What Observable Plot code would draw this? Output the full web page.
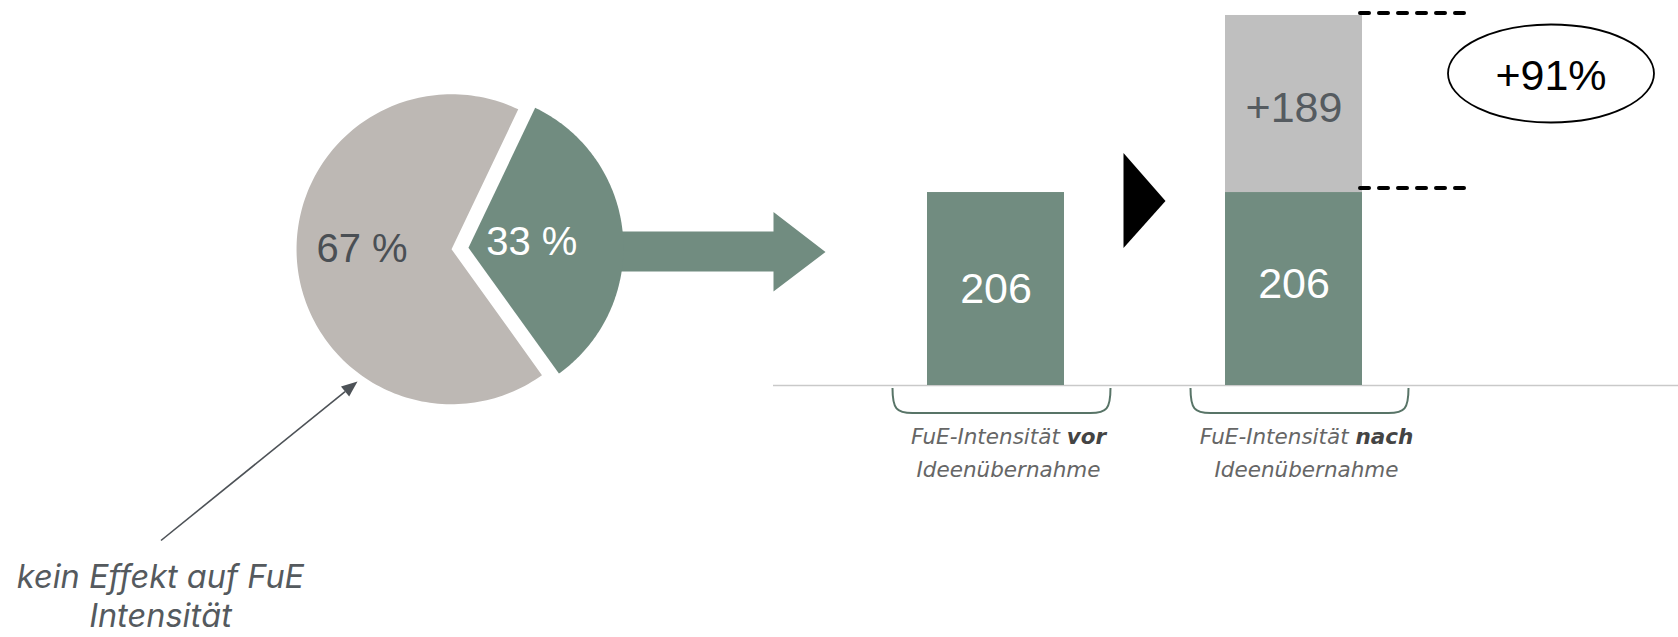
<!DOCTYPE html>
<html><head><meta charset="utf-8">
<script src="https://cdn.jsdelivr.net/npm/d3@7"></script>
<script src="https://cdn.jsdelivr.net/npm/@observablehq/plot@0.6"></script>
<style>
html,body{margin:0;padding:0;background:#fff;}
#chart{position:relative;width:1678px;height:637px;overflow:hidden;background:#fff;}
#chart svg{position:absolute;top:0;max-width:none;}
</style></head><body><div id="chart"></div>
<script>
// ---------- data ----------
const pieLabels = ["Effekt auf FuE", "kein Effekt auf FuE"];
const pieValues = [33, 67];
const pieTexts = ["33 %", "67 %"];
const barCategories = ["vor", "nach"];
const barSeries = ["Basis", "Zuwachs"];
const basisValues = [206, 206];
const increaseValues = [0, 189];
const categoryPrefix = "FuE-Intensität ";
const categorySecondLine = "Ideenübernahme";
const changeText = "+91%";
const annotationText = "kein Effekt auf FuE\nIntensität";

// ---------- styles / layout ----------
const GREEN = "#718c80", PIEGRAY = "#bdb8b4", BARGRAY = "#bfbfbf";
const NUMFONT = "'Liberation Sans', Arial, sans-serif";
const LABELFONT = "'DejaVu Sans', Verdana, sans-serif";
const P = {cx: 459.5, cy: 248, R: 155, explode: 8.5, start: 25.5, width: 840, height: 637};
const ux = px => (px - P.cx) / P.R, uy = py => (P.cy - py) / P.R;

// ---------- pie geometry from data ----------
const arcs = d3.pie().sort(null)
  .startAngle(P.start * Math.PI / 180)
  .endAngle(P.start * Math.PI / 180 + 2 * Math.PI)(pieValues);
const slicePts = [];
const sliceLabels = [];
const labelR = [0.41, 0.58], labelDy = [0, -8];
arcs.forEach((a, i) => {
  const mid = (a.startAngle + a.endAngle) / 2;
  const ox = Math.sin(mid) * P.explode / P.R, oy = Math.cos(mid) * P.explode / P.R;
  slicePts.push({slice: pieLabels[i], x: ox, y: oy});
  const n = 160;
  for (let k = 0; k <= n; k++) {
    const t = a.startAngle + (a.endAngle - a.startAngle) * k / n;
    slicePts.push({slice: pieLabels[i], x: ox + Math.sin(t), y: oy + Math.cos(t)});
  }
  sliceLabels.push({slice: pieLabels[i], text: pieTexts[i],
    x: ox + labelR[i] * Math.sin(mid), y: oy + labelR[i] * Math.cos(mid)});
});

// big arrow (px layout) -> units
const bigArrow = [[600,231],[773,231],[773,211.5],[825,251.5],[773,291],[773,271],[600,271]]
  .map(([x, y]) => ({x: ux(x), y: uy(y)}));
// annotation arrow
const annTail = [160.5, 540], annTip = [357, 381];
const dxA = annTip[0] - annTail[0], dyA = annTip[1] - annTail[1], lenA = Math.hypot(dxA, dyA);
const dA = [dxA / lenA, dyA / lenA], pA = [-dA[1], dA[0]];
const headL = 16, headW = 6.5;
const headBase = [annTip[0] - headL * dA[0], annTip[1] - headL * dA[1]];
const headPts = [annTip, [headBase[0] + headW * pA[0], headBase[1] + headW * pA[1]], [headBase[0] - headW * pA[0], headBase[1] - headW * pA[1]]]
  .map(([x, y]) => ({x: ux(x), y: uy(y)}));

const pie = Plot.plot({
  width: P.width, height: P.height, margin: 0,
  x: {domain: [-1, 1], range: [P.cx - P.R, P.cx + P.R], axis: null},
  y: {domain: [-1, 1], range: [P.cy + P.R, P.cy - P.R], axis: null},
  style: {background: "transparent", overflow: "visible", maxWidth: "none"},
  marks: [
    Plot.line(bigArrow, {x: "x", y: "y", fill: GREEN, stroke: "none", curve: "linear-closed"}),
    Plot.line(slicePts.filter(d => d.slice === pieLabels[1]), {x: "x", y: "y", fill: PIEGRAY, stroke: "none", curve: "linear-closed"}),
    Plot.line(slicePts.filter(d => d.slice === pieLabels[0]), {x: "x", y: "y", fill: GREEN, stroke: "none", curve: "linear-closed"}),
    Plot.text(sliceLabels.filter(d => d.slice === pieLabels[0]), {x: "x", y: "y", text: "text", fill: "white", fontSize: 40, fontFamily: NUMFONT}),
    Plot.text(sliceLabels.filter(d => d.slice === pieLabels[1]), {x: "x", y: "y", text: "text", dy: labelDy[1], fill: "#4a4f54", fontSize: 40, fontFamily: NUMFONT}),
    Plot.link([{x1: ux(annTail[0]), y1: uy(annTail[1]), x2: ux(headBase[0]), y2: uy(headBase[1])}],
      {x1: "x1", y1: "y1", x2: "x2", y2: "y2", stroke: "#4d5257", strokeWidth: 1.6}),
    Plot.line(headPts, {x: "x", y: "y", fill: "#4d5257", stroke: "none", curve: "linear-closed"}),
    Plot.text([annotationText], {x: ux(160), y: uy(559), text: d => d, lineAnchor: "top", lineHeight: 1.22,
      fontSize: 32.5, fontStyle: "italic", fontFamily: "Inter, 'Open Sans', sans-serif", fill: "#555a5e"})
  ]
});
pie.style.left = "0px";
document.getElementById("chart").appendChild(pie);

// ---------- bars ----------
const B = {left: 773, width: 905, height: 637, baseY: 385, yMax: 411, xRange: [0, 743.6], padIn: 0.541, padOut: 0.516};
const basisLabelDy = [0, -5];
const barData = [];
barCategories.forEach((c, i) => {
  const vals = [basisValues[i], increaseValues[i]];
  let acc = 0;
  vals.forEach((v, j) => {
    if (v > 0) { barData.push({cat: c, part: barSeries[j], value: v, y1: acc, y2: acc + v, idx: i}); acc += v; }
  });
});

const bars = Plot.plot({
  width: B.width, height: B.height, margin: 0,
  x: {domain: barCategories, range: B.xRange, paddingInner: B.padIn, paddingOuter: B.padOut, axis: null},
  y: {domain: [0, B.yMax], range: [B.baseY, 0], axis: null},
  color: {domain: barSeries, range: [GREEN, BARGRAY]},
  style: {background: "transparent", overflow: "visible", maxWidth: "none"},
  marks: [
    Plot.ruleY([0], {stroke: "#c9c9c9", strokeWidth: 1.5}),
    Plot.barY(barData, {x: "cat", y1: "y1", y2: "y2", fill: "part", inset: 0}),
    ...barData.filter(d => d.part === "Basis").map(d =>
      Plot.text([d], {x: "cat", y: r => (r.y1 + r.y2) / 2, text: r => String(r.value), dy: basisLabelDy[d.idx],
        fill: "white", fontSize: 43, fontFamily: NUMFONT})),
    Plot.text(barData.filter(d => d.part === "Zuwachs"), {x: "cat", y: d => (d.y1 + d.y2) / 2, text: d => "+" + d.value,
      dy: 4, fill: "#555b60", fontSize: 43, fontFamily: NUMFONT})
  ]
});
bars.style.left = B.left + "px";
document.getElementById("chart").appendChild(bars);

// decorations positioned with the plot's own scales
const xs = bars.scale("x"), ys = bars.scale("y");
const bw = xs.bandwidth;
const bandL = c => xs.apply(c), bandC = c => xs.apply(c) + bw / 2, bandR = c => xs.apply(c) + bw;
const svg = d3.select(bars);
const g = svg.append("g");

barCategories.forEach(c => {
  const cx = bandC(c), x0 = cx - 103, x1 = cx + 115, yT = 388, yB = 413, r = 20;
  g.append("path")
    .attr("d", `M${x0},${yT} C${x0},${yB - 4} ${x0 + 4},${yB} ${x0 + r},${yB} H${x1 - r} C${x1 - 4},${yB} ${x1},${yB - 4} ${x1},${yT}`)
    .attr("fill", "none").attr("stroke", "#587467").attr("stroke-width", 2);
  const t = g.append("text").attr("x", cx + 13).attr("y", 444).attr("text-anchor", "middle")
    .attr("font-family", LABELFONT).attr("font-size", 21.5).attr("font-style", "italic").attr("fill", "#666");
  t.append("tspan").text(categoryPrefix);
  t.append("tspan").attr("font-weight", "bold").attr("fill", "#444").text(c);
  g.append("text").attr("x", cx + 13).attr("y", 477).attr("text-anchor", "middle")
    .attr("font-family", LABELFONT).attr("font-size", 21.5).attr("font-style", "italic").attr("fill", "#666")
    .text(categorySecondLine);
});

// black triangle between the bars
const gapC = (bandR(barCategories[0]) + bandL(barCategories[1])) / 2;
g.append("path").attr("d", `M${gapC - 21},153 L${gapC + 21},201 L${gapC - 21},248 Z`).attr("fill", "#000");

// dashed guide lines at the two levels
const last = barCategories[1];
const total = basisValues[1] + increaseValues[1];
[[total, -2], [basisValues[1], -4]].forEach(([v, off]) => {
  g.append("line").attr("x1", bandR(last) - 2).attr("x2", bandR(last) + 104)
    .attr("y1", ys.apply(v) + off).attr("y2", ys.apply(v) + off)
    .attr("stroke", "#000").attr("stroke-width", 4).attr("stroke-dasharray", "9 10").attr("stroke-linecap", "round");
});

// ellipse with percentage change
const eCx = bandR(last) + 189;
g.append("ellipse").attr("cx", eCx).attr("cy", 73.5).attr("rx", 103).attr("ry", 49)
  .attr("fill", "none").attr("stroke", "#000").attr("stroke-width", 1.8);
g.append("text").attr("x", eCx).attr("y", 90).attr("text-anchor", "middle")
  .attr("font-family", NUMFONT).attr("font-size", 43).attr("fill", "#000").text(changeText);
</script></body></html>
